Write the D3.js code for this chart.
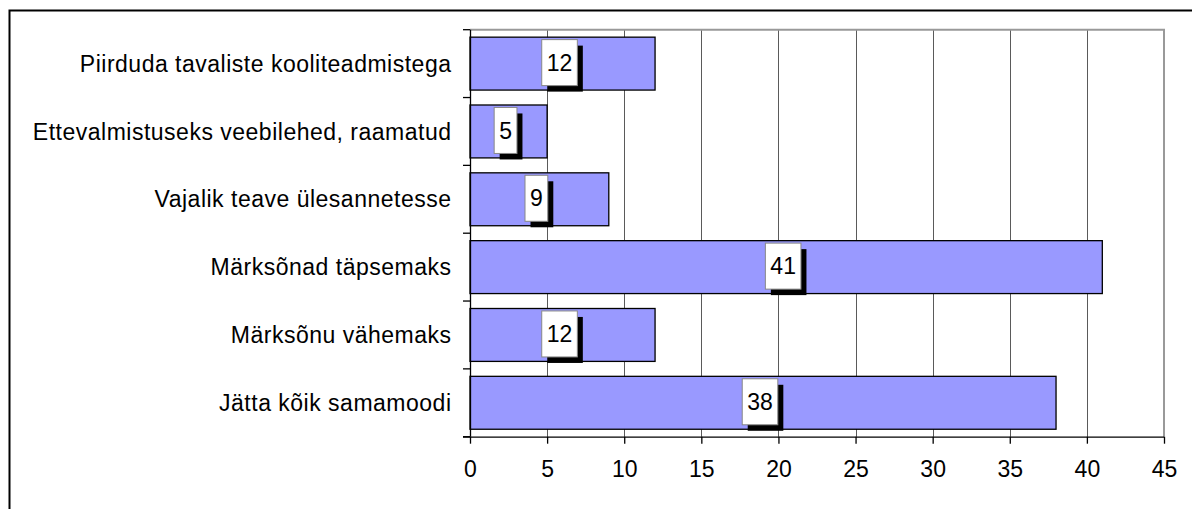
<!DOCTYPE html>
<html><head><meta charset="utf-8">
<script src="https://cdn.jsdelivr.net/npm/d3@7"></script>
<style>body{margin:0;background:#fff}svg{display:block;font-family:"Liberation Sans",Arial,sans-serif}</style>
</head><body>
<svg id="c" width="1192" height="509"></svg>
<script>
const categories = ["Piirduda tavaliste kooliteadmistega","Ettevalmistuseks veebilehed, raamatud","Vajalik teave ülesannetesse","Märksõnad täpsemaks","Märksõnu vähemaks","Jätta kõik samamoodi"];
const values = [12,5,9,41,12,38];
const xTicks = [0,5,10,15,20,25,30,35,40,45];

const svg = d3.select("#c");
const L = 470, R = 1164, T = 29.7, B = 436.7;
const x = d3.scaleLinear().domain([0,45]).range([L,R]);
const y = d3.scaleBand().domain(categories).range([T,B]).paddingInner(0.22).paddingOuter(0.11);

// outer frame
svg.append("rect").attr("x",9.5).attr("y",10.5).attr("width",1300).attr("height",600)
  .attr("fill","none").attr("stroke","#000").attr("stroke-width",2);

// gridlines
svg.append("g").selectAll("line").data(xTicks.filter(d=>d>0 && d<45)).join("line")
  .attr("x1",d=>Math.round(x(d))+0.5).attr("x2",d=>Math.round(x(d))+0.5)
  .attr("y1",T).attr("y2",B).attr("stroke","#5a5a5a").attr("stroke-width",1);

// plot border top/right
svg.append("path").attr("d",`M${L},${T}H${R}V${B}`).attr("fill","none").attr("stroke","#999").attr("stroke-width",2);

// bars
svg.append("g").selectAll("rect").data(categories).join("rect")
  .attr("x",x(0)).attr("y",d=>y(d)).attr("width",(d,i)=>x(values[i])-x(0)).attr("height",y.bandwidth())
  .attr("fill","#9999FF").attr("stroke","#000").attr("stroke-width",1.3);

// x axis
const xa = svg.append("g").attr("transform",`translate(0,${B})`)
  .call(d3.axisBottom(x).tickValues(xTicks).tickSize(7).tickSizeOuter(0).tickPadding(17));
xa.select(".domain").attr("d",`M${L-7},0.5H${R}`).attr("stroke","#000").attr("stroke-width",1.3);
xa.selectAll(".tick line").attr("stroke","#000").attr("stroke-width",1.3);
xa.selectAll("text").attr("font-size",23).attr("fill","#000").attr("font-family","Liberation Sans, Arial, sans-serif");

// y axis
const ya = svg.append("g").attr("transform",`translate(${L},0)`);
ya.append("line").attr("x1",0.5).attr("x2",0.5).attr("y1",T).attr("y2",B).attr("stroke","#000").attr("stroke-width",1.3);
const bounds = d3.range(7).map(i=>T + i*(B-T)/6);
ya.selectAll("line.t").data(bounds).join("line").attr("class","t")
  .attr("x1",-7).attr("x2",0).attr("y1",d=>d).attr("y2",d=>d).attr("stroke","#000").attr("stroke-width",1.3);
ya.selectAll("text").data(categories).join("text")
  .attr("x",-18.5).attr("y",(d,i)=>(bounds[i]+bounds[i+1])/2).attr("dy","0.35em")
  .attr("text-anchor","end").attr("font-size",23).attr("letter-spacing","0.5px").attr("fill","#000").text(d=>d);

// data labels
const lg = svg.append("g");
categories.forEach((c,i)=>{
  const cx = (x(0)+x(values[i]))/2 - 3;
  const cy = y(c) + y.bandwidth()/2 - 1;
  const t = lg.append("text").attr("x",cx).attr("y",cy).attr("dy","0.35em").attr("text-anchor","middle")
    .attr("font-size",23).attr("fill","#000").text(values[i]);
  const w = t.node().getComputedTextLength() + 10;
  const h = 46;
  lg.insert("rect",()=>t.node()).attr("x",cx-w/2+5.5).attr("y",cy-h/2+6).attr("width",w).attr("height",h).attr("fill","#000");
  lg.insert("rect",()=>t.node()).attr("x",cx-w/2).attr("y",cy-h/2).attr("width",w).attr("height",h).attr("fill","#fff").attr("stroke","#888").attr("stroke-width",1);
});
</script>
</body></html>
